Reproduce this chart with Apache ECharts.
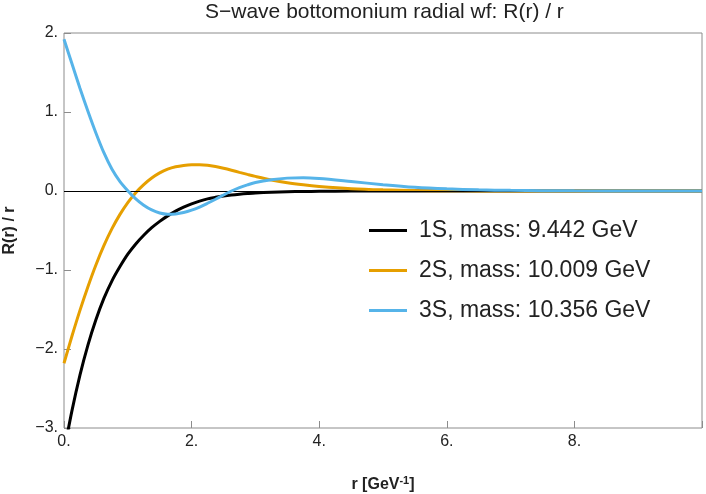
<!DOCTYPE html>
<html>
<head>
<meta charset="utf-8">
<script src="https://cdn.jsdelivr.net/npm/echarts@6/dist/echarts.min.js"></script>
<style>
  html, body { margin: 0; padding: 0; background: #fff; }
  #chart { width: 706px; height: 494px; }
</style>
</head>
<body>
<div id="chart"></div>
<script>
// r in GeV^-1
var rValues = [0, 0.125, 0.25, 0.375, 0.5, 0.625, 0.75, 0.875, 1, 1.125, 1.25, 1.375, 1.5, 1.625, 1.75, 1.875, 2, 2.125, 2.25, 2.375, 2.5,
  2.625, 2.75, 2.875, 3, 3.25, 3.5, 3.75, 4, 4.5, 5, 5.5, 6, 6.5, 7, 8, 9, 10];

// R(r)/r
var wf1S = [-3.3, -2.78, -2.33, -1.95, -1.63, -1.36, -1.14, -0.96, -0.8, -0.67, -0.56, -0.465, -0.385, -0.315, -0.255, -0.205, -0.162, -0.128, -0.1, -0.08, -0.063,
  -0.05, -0.04, -0.032, -0.025, -0.016, -0.01, -0.006, -0.004, -0.0015, -0.0005, 0, 0, 0, 0, 0, 0, 0];
var wf2S = [-2.18, -1.836, -1.511, -1.211, -0.936, -0.692, -0.48, -0.299, -0.146, -0.021, 0.081, 0.164, 0.229, 0.276, 0.306, 0.323, 0.332, 0.333, 0.327, 0.31, 0.288,
  0.263, 0.236, 0.21, 0.185, 0.14, 0.104, 0.078, 0.058, 0.03, 0.015, 0.007, 0.003, 0.0015, 0.0007, 0, 0, 0];
var wf3S = [1.92, 1.61, 1.3, 1.01, 0.735, 0.485, 0.279, 0.123, 0.004, -0.1, -0.18, -0.24, -0.278, -0.293, -0.29, -0.273, -0.243, -0.203, -0.155, -0.104, -0.051,
  0, 0.043, 0.078, 0.108, 0.143, 0.163, 0.168, 0.158, 0.12, 0.08, 0.047, 0.027, 0.015, 0.008, 0.002, 0.0005, 0];

var seriesNames = ['1S, mass: 9.442 GeV', '2S, mass: 10.009 GeV', '3S, mass: 10.356 GeV'];
var seriesColors = ['#000000', '#E69F00', '#56B4E9'];

var xTicks = [0, 2, 4, 6, 8];
var yTicks = [-3, -2, -1, 0, 1, 2];

var FONT = 'Liberation Sans, Arial, sans-serif';

function pairs (ys) {
  return rValues.map(function (r, i) { return [r, ys[i]]; });
}

function tickLabel (v) {
  return (v < 0 ? '\u2212' : '') + Math.abs(v) + '.';
}

var myChart = echarts.init(document.getElementById('chart'));

var lineSeries = [wf1S, wf2S, wf3S].map(function (ys, i) {
  return {
    name: seriesNames[i],
    type: 'line',
    data: pairs(ys),
    smooth: 0.3,
    symbol: 'none',
    lineStyle: { color: seriesColors[i], width: 3 },
    itemStyle: { color: seriesColors[i] },
    z: 3 + i
  };
});

// thin zero line drawn over the curves
lineSeries[2].markLine = {
  silent: true,
  symbol: 'none',
  label: { show: false },
  lineStyle: { color: '#000', width: 1, type: 'solid' },
  data: [{ yAxis: 0 }]
};

var option = {
  animation: false,
  title: {
    text: 'S\u2212wave bottomonium radial wf: R(r) / r',
    left: 205,
    top: 2,
    padding: 0,
    textStyle: {
      fontFamily: FONT,
      fontWeight: 'normal',
      fontSize: 21,
      color: '#222'
    }
  },
  grid: {
    left: 64,
    top: 33,
    right: 4,
    bottom: 66,
    outerBoundsMode: 'none',
    containLabel: false,
    show: true,
    borderColor: '#8c8c8c',
    borderWidth: 1
  },
  legend: {
    orient: 'vertical',
    left: 364,
    top: 214,
    icon: 'rect',
    itemWidth: 38,
    itemHeight: 3,
    itemGap: 17,
    data: seriesNames,
    textStyle: {
      fontFamily: FONT,
      fontSize: 23,
      color: '#222',
      padding: [0, 0, 0, 7]
    }
  },
  xAxis: {
    type: 'value',
    min: 0,
    max: 10,
    interval: 2,
    name: '{b|r [GeV}{sup|-1}{b|]}',
    nameLocation: 'middle',
    nameGap: 47,
    nameTextStyle: {
      rich: {
        b: { fontFamily: FONT, fontSize: 16, lineHeight: 18, fontWeight: 'bold', color: '#222', verticalAlign: 'bottom' },
        sup: { fontFamily: FONT, fontSize: 11, lineHeight: 11, fontWeight: 'bold', color: '#222', verticalAlign: 'top' }
      }
    },
    axisLine: { show: false, onZero: false },
    axisTick: { inside: true, length: 7, lineStyle: { color: '#8c8c8c' } },
    axisLabel: {
      margin: 6,
      fontFamily: FONT,
      fontSize: 16,
      color: '#222',
      formatter: function (v) {
        return xTicks.indexOf(v) >= 0 ? tickLabel(v) : '';
      }
    },
    splitLine: { show: false }
  },
  yAxis: {
    type: 'value',
    min: -3,
    max: 2,
    interval: 1,
    name: 'R(r) / r',
    nameLocation: 'middle',
    nameGap: 46,
    nameTextStyle: {
      fontFamily: FONT,
      fontWeight: 'bold',
      fontSize: 16,
      color: '#222'
    },
    axisLine: { show: false, onZero: false },
    axisTick: { inside: true, length: 7, lineStyle: { color: '#8c8c8c' } },
    axisLabel: {
      margin: 6,
      fontFamily: FONT,
      fontSize: 16,
      color: '#222',
      formatter: function (v) {
        return yTicks.indexOf(v) >= 0 ? tickLabel(v) : '';
      }
    },
    splitLine: { show: false }
  },
  series: lineSeries
};

myChart.setOption(option);
window.addEventListener('resize', function () {
  myChart.resize();
});
</script>
</body>
</html>
